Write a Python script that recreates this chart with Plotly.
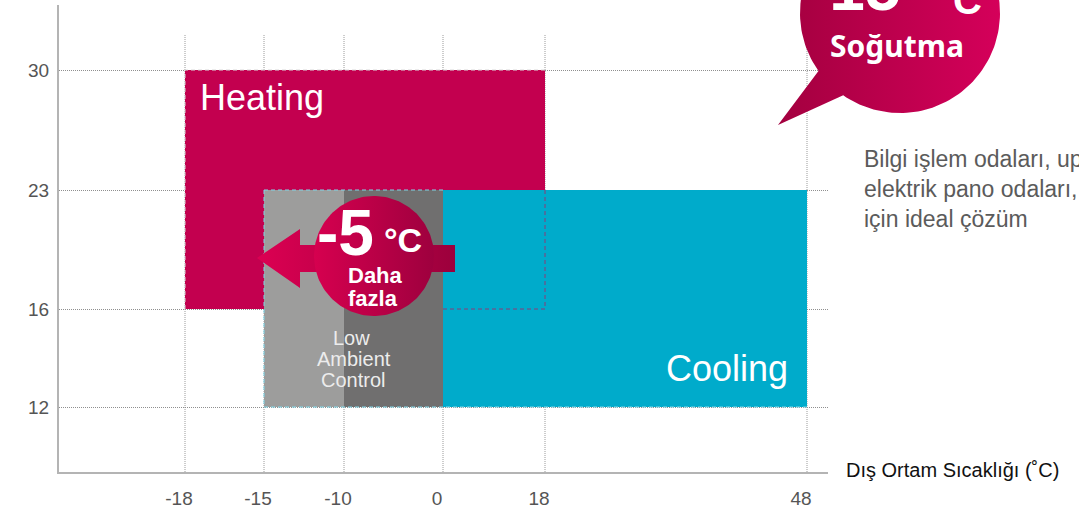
import numpy as np
import plotly.graph_objects as go

# Tick temperatures on each axis (°C)
OUTDOOR_TICKS = [-18, -15, -10, 0, 18, 48]
INDOOR_TICKS = [12, 16, 23, 30]

# Stretched scale: axis position given to each tick temperature
OUTDOOR_POS = [126, 205, 285, 384, 486, 748]
INDOOR_POS = [65, 163, 282, 402]

# Operating ranges (outdoor °C, indoor °C)
HEATING_OUTDOOR = [-18, 18]
HEATING_INDOOR = [16, 30]
COOLING_OUTDOOR = [-15, 48]
COOLING_INDOOR = [12, 23]
LOW_AMBIENT_LIGHT = [-15, -10]
LOW_AMBIENT_DARK = [-10, 0]

HEAT_C = "#c3004f"
COOL_C = "#00abcb"
LIGHT_GREY = "#9d9d9c"
DARK_GREY = "#706f6f"


def sx(v):
    return np.interp(v, OUTDOOR_TICKS, OUTDOOR_POS)


def sy(v):
    return np.interp(v, INDOOR_TICKS, INDOOR_POS)


def rect(xr, yr, color):
    x0, x1 = sx(xr)
    y0, y1 = sy(yr)
    return go.Scatter(x=[x0, x1, x1, x0, x0], y=[y0, y0, y1, y1, y0],
                      fill="toself", fillcolor=color, mode="none",
                      hoverinfo="skip", showlegend=False)


def path(xs, ys, color, dash="4px,3px", width=1):
    return go.Scatter(x=sx(xs), y=sy(ys), mode="lines",
                      line=dict(color=color, width=width, dash=dash),
                      hoverinfo="skip", showlegend=False)


fig = go.Figure()

# Operating envelopes
fig.add_trace(rect(HEATING_OUTDOOR, HEATING_INDOOR, HEAT_C))
fig.add_trace(path([HEATING_OUTDOOR[0], HEATING_OUTDOOR[0], HEATING_OUTDOOR[1]],
                   [HEATING_INDOOR[0], HEATING_INDOOR[1], HEATING_INDOOR[1]], "#d8d8d8"))
fig.add_trace(rect(COOLING_OUTDOOR, COOLING_INDOOR, COOL_C))
# heating boundary that runs through the cooling area
fig.add_trace(path([0, HEATING_OUTDOOR[1], HEATING_OUTDOOR[1]],
                   [HEATING_INDOOR[0], HEATING_INDOOR[0], COOLING_INDOOR[1]], "#8e3a76"))
fig.add_trace(rect(LOW_AMBIENT_LIGHT, COOLING_INDOOR, LIGHT_GREY))
fig.add_trace(rect(LOW_AMBIENT_DARK, COOLING_INDOOR, DARK_GREY))
fig.add_trace(path([COOLING_OUTDOOR[0], COOLING_OUTDOOR[0], COOLING_OUTDOOR[1]],
                   [COOLING_INDOOR[1], COOLING_INDOOR[0], COOLING_INDOOR[0]], "#7fd6e8"))
fig.add_trace(path([COOLING_OUTDOOR[0], 0],
                   [COOLING_INDOOR[1], COOLING_INDOOR[1]], "#7fd6e8"))


# ---- callouts, drawn on a full-page overlay axis in pixel units ----
def circle(cx, cy, r, a0=0.0, a1=360.0, n=160):
    a = np.radians(np.linspace(a0, a1, n))
    return list(cx + r * np.cos(a)), list(cy + r * np.sin(a))


def grad_shape(xs, ys, c_left, c_right, start, stop):
    return go.Scatter(x=xs, y=ys, xaxis="x2", yaxis="y2", mode="lines",
                      line=dict(width=0), fill="toself",
                      fillgradient=dict(type="horizontal", start=start, stop=stop,
                                        colorscale=[[0, c_left], [1, c_right]]),
                      hoverinfo="skip", showlegend=False)


# "-5 °C daha fazla" arrow and badge
arrow_x = [257, 300, 300, 455, 455, 300, 300, 257]
arrow_y = [258, 229, 245, 245, 272, 272, 288, 258]
fig.add_trace(grad_shape(arrow_x, arrow_y, "#dc0052", "#9c003c", 257, 455))
bx, by = circle(374, 256, 60)
fig.add_trace(grad_shape(bx, by, "#d6004f", "#9e003e", 314, 434))

# speech bubble at the top right
sbx, sby = circle(900, 13, 100, 144.6, 484.6)
sbx += [778, sbx[0]]
sby += [125, sby[0]]
fig.add_trace(grad_shape(sbx, sby, "#a3003f", "#d5005a", 778, 1000))

# vertical dotted guides at each outdoor tick
shapes = []
for t in OUTDOOR_TICKS:
    shapes.append(dict(type="line", xref="x", yref="y domain",
                       x0=float(sx(t)), x1=float(sx(t)), y0=0, y1=438 / 467,
                       line=dict(color="#9a9a9a", width=1, dash="1px,1px"),
                       layer="below"))

W, H = 1079, 511
ann = []


def label(text, x, y, size, color="white", weight="normal", xanchor="center",
          family="Liberation Sans, Arial, sans-serif", yshift=0):
    ann.append(dict(text=text, x=x, y=y, xref="x2", yref="y2", showarrow=False,
                    xanchor=xanchor, yanchor="middle", yshift=yshift,
                    font=dict(size=size, color=color, family=family, weight=weight)))


label("Heating", 198, 97, 36, xanchor="left")
label("Cooling", 790, 368, 36, xanchor="right")
label("Low", 351, 338, 20, color="#ececec")
label("Ambient", 354, 359, 20, color="#ececec")
label("Control", 353, 380, 20, color="#ececec")
label("-5", 345, 233, 64, weight="bold")
label("°C", 403, 240, 34, weight="bold")
label("Daha", 375, 275, 22, weight="bold")
label("fazla", 373, 298, 22, weight="bold")
label("-15", 903, 10, 64, weight="bold", xanchor="right", yshift=22)
label("°C", 935, 10, 40, weight="bold", xanchor="left", yshift=10)
label("Soğutma", 897, 45, 30, weight="bold", family="Noto Sans, sans-serif")
label("Bilgi işlem odaları, ups odaları ve", 862, 159, 23, color="#5b5b5b", xanchor="left")
label("elektrik pano odaları,", 862, 189, 23, color="#5b5b5b", xanchor="left")
label("için ideal çözüm", 862, 219, 23, color="#5b5b5b", xanchor="left")
label("Dış Ortam Sıcaklığı (˚C)", 844, 470, 20, color="#111111", xanchor="left")

fig.update_layout(
    width=W, height=H,
    margin=dict(l=0, r=0, t=0, b=0),
    paper_bgcolor="white",
    plot_bgcolor="rgba(0,0,0,0)",
    showlegend=False,
    shapes=shapes,
    annotations=ann,
    xaxis=dict(domain=[59 / W, 828 / W], range=[0, 769], anchor="y",
               tickvals=[float(v) for v in sx(OUTDOOR_TICKS)],
               ticktext=[str(t) for t in OUTDOOR_TICKS],
               showgrid=False, zeroline=False, ticks="",
               showline=True, linecolor="#b4b4b4", linewidth=2,
               tickfont=dict(size=19, color="#555555",
                             family="Liberation Sans, Arial, sans-serif"),
               ticklabelshift=-6, ticklabelstandoff=8, fixedrange=True),
    yaxis=dict(domain=[(H - 472) / H, (H - 5) / H], range=[0, 467], anchor="x",
               tickvals=[float(v) for v in sy(INDOOR_TICKS)],
               ticktext=[str(t) for t in INDOOR_TICKS],
               showgrid=True, gridcolor="#8f8f8f", gridwidth=1, griddash="1px,1px",
               zeroline=False, ticks="",
               showline=True, linecolor="#b4b4b4", linewidth=2,
               tickfont=dict(size=19, color="#555555",
                             family="Liberation Sans, Arial, sans-serif"),
               ticklabelstandoff=4, fixedrange=True),
    xaxis2=dict(domain=[0, 1], range=[0, W], anchor="y2", visible=False,
                fixedrange=True),
    yaxis2=dict(domain=[0, 1], range=[H, 0], anchor="x2", visible=False,
                fixedrange=True),
)

fig.write_html("out.html")
